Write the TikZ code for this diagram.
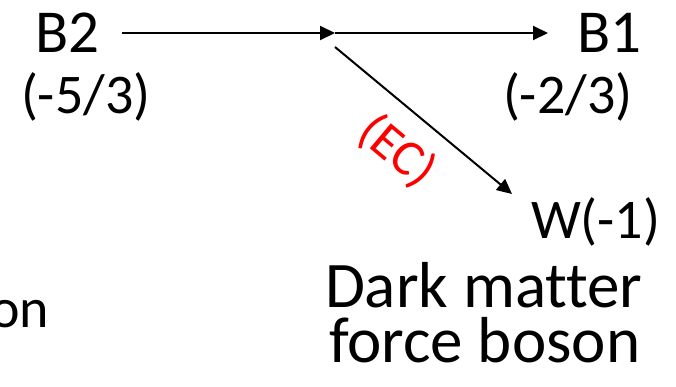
\documentclass[tikz,border=0pt]{standalone}
\usepackage{fontspec}
\setmainfont{Carlito}[Ligatures={NoCommon}]
\usetikzlibrary{arrows.meta}
\begin{document}
\begin{tikzpicture}[x=1pt,y=1pt,
  big/.style={inner sep=0pt,outer sep=0pt,font=\fontsize{61}{64}\selectfont},
  mid/.style={inner sep=0pt,outer sep=0pt,font=\fontsize{56}{60}\selectfont},
  lbl/.style={inner sep=0pt,outer sep=0pt,font=\fontsize{65}{68}\selectfont},
  ec/.style={inner sep=0pt,outer sep=0pt,text=red,font=\fontsize{51}{54}\selectfont},
  conn/.style={line width=2pt,-{Triangle[length=15pt,width=14pt]}}]
\useasboundingbox (0,0) rectangle (676,-386);
\fill[white] (0,0) rectangle (676,-386);
\node[big,anchor=base west] (b2) at (35,-52) {B2};
\node[mid,anchor=base west] (b2q) at (21,-113) {(-5/3)};
\node[big,anchor=base west] (b1) at (577,-52) {B1};
\node[mid,anchor=base west] (b1q) at (503,-113) {(-2/3)};
\node[mid,anchor=base west] (w) at (531,-238) {W(-1)};
\node[lbl,anchor=base west] (dm1) at (325,-307) {Dark matter};
\node[lbl,anchor=base west] (dm2) at (329,-362) {force boson};
\node[mid,anchor=base east] (on) at (49,-327) {on};
\coordinate (s) at (122,-33);
\coordinate (j) at (335,-33);
\coordinate (e) at (548,-33);
\coordinate (ds) at (335,-47);
\coordinate (de) at (512,-194);
\draw[conn] (s) -- (j);
\draw[conn] (j) -- (e);
\draw[conn] (ds) -- (de);
\node[ec,rotate=-40] (ecl) at (397,-151) {(EC)};
\end{tikzpicture}
\end{document}
